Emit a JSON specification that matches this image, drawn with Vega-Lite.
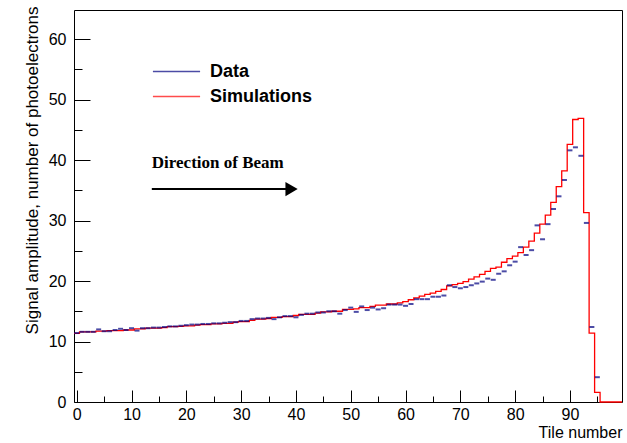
{
  "$schema": "https://vega.github.io/schema/vega-lite/v6.json",
  "width": 548,
  "height": 392,
  "autosize": {"type": "none"},
  "padding": {"left": 74, "top": 10, "right": 5, "bottom": 41},
  "background": "white",
  "config": {
    "font": "Liberation Sans",
    "view": {"stroke": "black", "strokeWidth": 1}
  },
  "datasets": {
    "measured": [
      {"tile": 0, "amplitude": 11.4}, {"tile": 1, "amplitude": 11.6}, {"tile": 2, "amplitude": 11.6}, {"tile": 3, "amplitude": 11.6},
      {"tile": 4, "amplitude": 12.0}, {"tile": 5, "amplitude": 11.7}, {"tile": 6, "amplitude": 11.7}, {"tile": 7, "amplitude": 11.9},
      {"tile": 8, "amplitude": 12.1}, {"tile": 9, "amplitude": 11.9}, {"tile": 10, "amplitude": 12.2}, {"tile": 11, "amplitude": 11.8},
      {"tile": 12, "amplitude": 12.2}, {"tile": 13, "amplitude": 12.2}, {"tile": 14, "amplitude": 12.3}, {"tile": 15, "amplitude": 12.3},
      {"tile": 16, "amplitude": 12.4}, {"tile": 17, "amplitude": 12.5}, {"tile": 18, "amplitude": 12.5}, {"tile": 19, "amplitude": 12.6},
      {"tile": 20, "amplitude": 12.7}, {"tile": 21, "amplitude": 12.8}, {"tile": 22, "amplitude": 12.8}, {"tile": 23, "amplitude": 12.9},
      {"tile": 24, "amplitude": 12.9}, {"tile": 25, "amplitude": 13.0}, {"tile": 26, "amplitude": 13.0}, {"tile": 27, "amplitude": 13.1},
      {"tile": 28, "amplitude": 13.2}, {"tile": 29, "amplitude": 13.2}, {"tile": 30, "amplitude": 13.4}, {"tile": 31, "amplitude": 13.4},
      {"tile": 32, "amplitude": 13.7}, {"tile": 33, "amplitude": 13.8}, {"tile": 34, "amplitude": 13.8}, {"tile": 35, "amplitude": 13.9},
      {"tile": 36, "amplitude": 13.7}, {"tile": 37, "amplitude": 14.0}, {"tile": 38, "amplitude": 14.2}, {"tile": 39, "amplitude": 14.2},
      {"tile": 40, "amplitude": 14.0}, {"tile": 41, "amplitude": 14.4}, {"tile": 42, "amplitude": 14.6}, {"tile": 43, "amplitude": 14.6},
      {"tile": 44, "amplitude": 14.8}, {"tile": 45, "amplitude": 14.8}, {"tile": 46, "amplitude": 15.0}, {"tile": 47, "amplitude": 15.0},
      {"tile": 48, "amplitude": 14.6}, {"tile": 49, "amplitude": 15.2}, {"tile": 50, "amplitude": 15.6}, {"tile": 51, "amplitude": 14.9},
      {"tile": 52, "amplitude": 15.8}, {"tile": 53, "amplitude": 15.2}, {"tile": 54, "amplitude": 15.6}, {"tile": 55, "amplitude": 15.3},
      {"tile": 56, "amplitude": 15.5}, {"tile": 57, "amplitude": 16.1}, {"tile": 58, "amplitude": 16.1}, {"tile": 59, "amplitude": 16.1},
      {"tile": 60, "amplitude": 15.9}, {"tile": 61, "amplitude": 16.2}, {"tile": 62, "amplitude": 17.0}, {"tile": 63, "amplitude": 17.0},
      {"tile": 64, "amplitude": 17.0}, {"tile": 65, "amplitude": 17.4}, {"tile": 66, "amplitude": 17.4}, {"tile": 67, "amplitude": 17.6},
      {"tile": 68, "amplitude": 19.3}, {"tile": 69, "amplitude": 19.0}, {"tile": 70, "amplitude": 18.8}, {"tile": 71, "amplitude": 19.0},
      {"tile": 72, "amplitude": 19.3}, {"tile": 73, "amplitude": 19.6}, {"tile": 74, "amplitude": 19.9}, {"tile": 75, "amplitude": 20.4},
      {"tile": 76, "amplitude": 20.2}, {"tile": 77, "amplitude": 21.2}, {"tile": 78, "amplitude": 21.6}, {"tile": 79, "amplitude": 22.6},
      {"tile": 80, "amplitude": 23.2}, {"tile": 81, "amplitude": 25.6}, {"tile": 82, "amplitude": 24.3}, {"tile": 83, "amplitude": 25.1},
      {"tile": 84, "amplitude": 29.2}, {"tile": 85, "amplitude": 26.9}, {"tile": 86, "amplitude": 29.4}, {"tile": 87, "amplitude": 31.9},
      {"tile": 88, "amplitude": 34.0}, {"tile": 89, "amplitude": 36.7}, {"tile": 90, "amplitude": 41.6}, {"tile": 91, "amplitude": 42.1},
      {"tile": 92, "amplitude": 40.7}, {"tile": 93, "amplitude": 29.6}, {"tile": 94, "amplitude": 12.4}, {"tile": 95, "amplitude": 4.1}
    ],
    "simulated": [
      {"edge": -0.5, "amplitude": 11.35}, {"edge": 0.5, "amplitude": 11.6}, {"edge": 1.5, "amplitude": 11.6}, {"edge": 2.5, "amplitude": 11.6},
      {"edge": 3.5, "amplitude": 11.7}, {"edge": 4.5, "amplitude": 11.7}, {"edge": 5.5, "amplitude": 11.8}, {"edge": 6.5, "amplitude": 11.8},
      {"edge": 7.5, "amplitude": 11.8}, {"edge": 8.5, "amplitude": 11.9}, {"edge": 9.5, "amplitude": 11.9}, {"edge": 10.5, "amplitude": 12.1},
      {"edge": 11.5, "amplitude": 12.1}, {"edge": 12.5, "amplitude": 12.2}, {"edge": 13.5, "amplitude": 12.2}, {"edge": 14.5, "amplitude": 12.2},
      {"edge": 15.5, "amplitude": 12.3}, {"edge": 16.5, "amplitude": 12.45}, {"edge": 17.5, "amplitude": 12.45}, {"edge": 18.5, "amplitude": 12.5},
      {"edge": 19.5, "amplitude": 12.6}, {"edge": 20.5, "amplitude": 12.6}, {"edge": 21.5, "amplitude": 12.7}, {"edge": 22.5, "amplitude": 12.8},
      {"edge": 23.5, "amplitude": 12.8}, {"edge": 24.5, "amplitude": 12.9}, {"edge": 25.5, "amplitude": 12.9}, {"edge": 26.5, "amplitude": 13.0},
      {"edge": 27.5, "amplitude": 13.0}, {"edge": 28.5, "amplitude": 13.2}, {"edge": 29.5, "amplitude": 13.3}, {"edge": 30.5, "amplitude": 13.3},
      {"edge": 31.5, "amplitude": 13.5}, {"edge": 32.5, "amplitude": 13.7}, {"edge": 33.5, "amplitude": 13.7}, {"edge": 34.5, "amplitude": 13.8},
      {"edge": 35.5, "amplitude": 14.0}, {"edge": 36.5, "amplitude": 14.0}, {"edge": 37.5, "amplitude": 14.1}, {"edge": 38.5, "amplitude": 14.1},
      {"edge": 39.5, "amplitude": 14.3}, {"edge": 40.5, "amplitude": 14.5}, {"edge": 41.5, "amplitude": 14.5}, {"edge": 42.5, "amplitude": 14.5},
      {"edge": 43.5, "amplitude": 14.7}, {"edge": 44.5, "amplitude": 14.9}, {"edge": 45.5, "amplitude": 14.9}, {"edge": 46.5, "amplitude": 15.0},
      {"edge": 47.5, "amplitude": 15.0}, {"edge": 48.5, "amplitude": 15.3}, {"edge": 49.5, "amplitude": 15.3}, {"edge": 50.5, "amplitude": 15.4},
      {"edge": 51.5, "amplitude": 15.6}, {"edge": 52.5, "amplitude": 15.6}, {"edge": 53.5, "amplitude": 15.8}, {"edge": 54.5, "amplitude": 16.0},
      {"edge": 55.5, "amplitude": 16.0}, {"edge": 56.5, "amplitude": 16.2}, {"edge": 57.5, "amplitude": 16.2}, {"edge": 58.5, "amplitude": 16.4},
      {"edge": 59.5, "amplitude": 16.6}, {"edge": 60.5, "amplitude": 16.9}, {"edge": 61.5, "amplitude": 17.2}, {"edge": 62.5, "amplitude": 17.5},
      {"edge": 63.5, "amplitude": 17.8}, {"edge": 64.5, "amplitude": 18.0}, {"edge": 65.5, "amplitude": 18.3}, {"edge": 66.5, "amplitude": 18.6},
      {"edge": 67.5, "amplitude": 19.2}, {"edge": 68.5, "amplitude": 19.4}, {"edge": 69.5, "amplitude": 19.6}, {"edge": 70.5, "amplitude": 19.9},
      {"edge": 71.5, "amplitude": 20.3}, {"edge": 72.5, "amplitude": 20.7}, {"edge": 73.5, "amplitude": 21.1}, {"edge": 74.5, "amplitude": 21.6},
      {"edge": 75.5, "amplitude": 22.1}, {"edge": 76.5, "amplitude": 22.3}, {"edge": 77.5, "amplitude": 23.1}, {"edge": 78.5, "amplitude": 23.7},
      {"edge": 79.5, "amplitude": 24.1}, {"edge": 80.5, "amplitude": 24.7}, {"edge": 81.5, "amplitude": 25.6}, {"edge": 82.5, "amplitude": 26.6},
      {"edge": 83.5, "amplitude": 27.9}, {"edge": 84.5, "amplitude": 29.4}, {"edge": 85.5, "amplitude": 30.9}, {"edge": 86.5, "amplitude": 33.0},
      {"edge": 87.5, "amplitude": 35.6}, {"edge": 88.5, "amplitude": 38.2}, {"edge": 89.5, "amplitude": 42.6}, {"edge": 90.5, "amplitude": 46.7},
      {"edge": 91.5, "amplitude": 46.9}, {"edge": 92.5, "amplitude": 31.3}, {"edge": 93.5, "amplitude": 11.4}, {"edge": 94.5, "amplitude": 1.6},
      {"edge": 95.5, "amplitude": 0}, {"edge": 99.5, "amplitude": 0}
    ],
    "caption": [
      {"x": 13.7, "y": 39.5, "text": "Direction of Beam"}
    ],
    "arrow": [
      {"start": 13.7, "end": 38.2, "head": 39.2, "level": 35.2}
    ]
  },
  "resolve": {"axis": {"x": "independent", "y": "independent"}},
  "layer": [
    {
      "mark": {"type": "rule", "color": "#1a1aa0", "strokeWidth": 1.5},
      "encoding": {
        "y": {"datum": 0, "type": "quantitative", "scale": {"domain": [0, 64.8], "nice": false, "zero": false}, "axis": null}
      }
    },
    {
      "data": {"name": "simulated"},
      "mark": {"type": "line", "interpolate": "step-after", "strokeWidth": 1.3},
      "encoding": {
        "x": {"field": "edge", "type": "quantitative", "scale": {"domain": [-0.5, 99.5], "nice": false, "zero": false},
              "axis": {"orient": "bottom", "values": [5, 15, 25, 35, 45, 55, 65, 75, 85, 95], "tickSize": -6, "tickColor": "black", "tickWidth": 1, "labels": false, "domain": false, "grid": false, "title": null}},
        "y": {"field": "amplitude", "type": "quantitative",
              "axis": {"orient": "left", "values": [5, 15, 25, 35, 45, 55], "tickSize": -8, "tickColor": "black", "tickWidth": 1, "labels": false, "domain": false, "grid": false, "title": null}},
        "color": {"datum": "Simulations"}
      }
    },
    {
      "data": {"name": "measured"},
      "mark": {"type": "tick", "orient": "horizontal", "size": 5, "thickness": 2},
      "encoding": {
        "x": {"field": "tile", "type": "quantitative",
              "axis": {"orient": "bottom", "values": [0, 10, 20, 30, 40, 50, 60, 70, 80, 90], "tickSize": -12, "tickColor": "black", "tickWidth": 1,
                       "labelFontSize": 16, "labelColor": "black", "labelPadding": 16, "labelFont": "Liberation Sans",
                       "domain": false, "grid": false, "title": "Tile number", "titleFontSize": 16, "titleFontWeight": "normal", "titleColor": "black",
                       "titleFont": "Liberation Sans", "titleAlign": "right", "titleBaseline": "middle", "titleX": 548, "titleY": 30}},
        "y": {"field": "amplitude", "type": "quantitative",
              "axis": {"orient": "left", "values": [0, 10, 20, 30, 40, 50, 60], "tickSize": -16, "tickColor": "black", "tickWidth": 1,
                       "labelFontSize": 16, "labelColor": "black", "labelPadding": 24, "labelFont": "Liberation Sans",
                       "domain": false, "grid": false, "title": "Signal amplitude, number of photoelectrons", "titleFontSize": 17, "titleFontWeight": "normal",
                       "titleColor": "black", "titleFont": "Liberation Sans", "titleAngle": -90, "titleAlign": "right", "titleBaseline": "middle", "titleX": -42, "titleY": -4}},
        "color": {"datum": "Data",
                  "scale": {"domain": ["Data", "Simulations"], "range": ["#000080", "#ff0000"]},
                  "legend": {"orient": "none", "legendX": 93.5, "legendY": 52.5, "title": null, "symbolType": "M -4 0 L 4 0", "symbolSize": 139,
                             "symbolStrokeWidth": 1.5, "labelFontSize": 18, "labelFontWeight": "bold", "labelFont": "Liberation Sans",
                             "labelColor": "black", "labelOffset": 24.5, "rowPadding": 7, "padding": 0}}
      }
    },
    {
      "data": {"name": "arrow"},
      "mark": {"type": "rule", "color": "black", "strokeWidth": 2},
      "encoding": {
        "x": {"field": "start", "type": "quantitative", "axis": null},
        "x2": {"field": "end"},
        "y": {"field": "level", "type": "quantitative", "axis": null}
      }
    },
    {
      "data": {"name": "arrow"},
      "mark": {"type": "point", "shape": "triangle-right", "filled": true, "color": "black", "size": 200, "opacity": 1},
      "encoding": {
        "x": {"field": "head", "type": "quantitative", "axis": null},
        "y": {"field": "level", "type": "quantitative", "axis": null}
      }
    },
    {
      "data": {"name": "caption"},
      "mark": {"type": "text", "font": "Liberation Serif", "fontWeight": "bold", "fontSize": 17, "align": "left", "baseline": "middle", "color": "black"},
      "encoding": {
        "x": {"field": "x", "type": "quantitative", "axis": null},
        "y": {"field": "y", "type": "quantitative", "axis": null},
        "text": {"field": "text"}
      }
    }
  ]
}
